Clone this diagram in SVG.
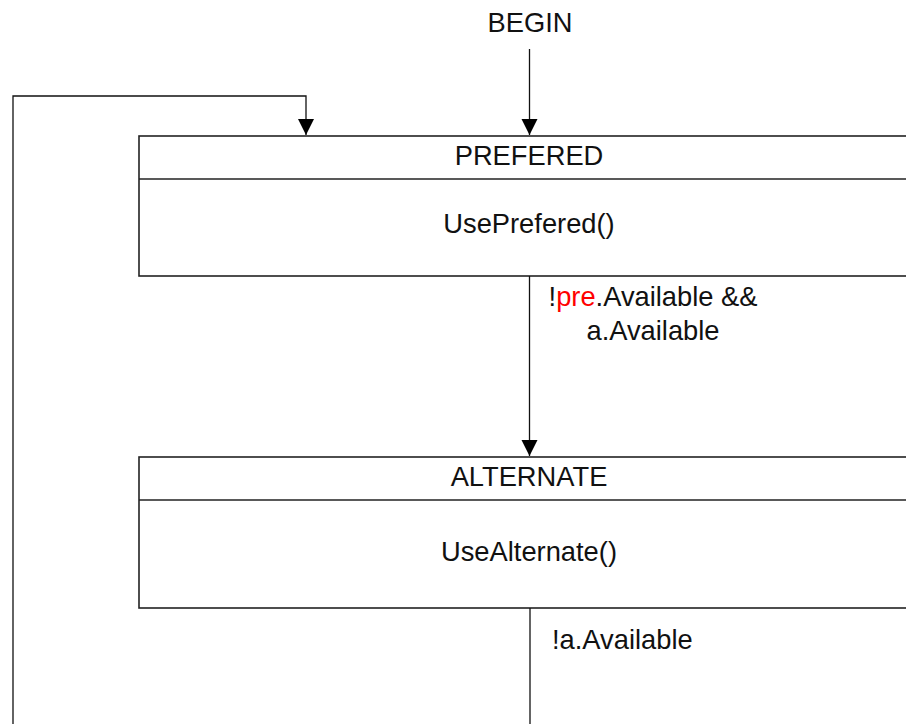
<svg xmlns="http://www.w3.org/2000/svg" width="906" height="724" viewBox="0 0 906 724">
  <style>
    .box { fill: #ffffff; stroke: #222222; stroke-width: 1.6; }
    .div { stroke: #222222; stroke-width: 1.6; }
    .edge { fill: none; stroke: #111111; stroke-width: 1.3; }
    text { font-family: "Liberation Sans", Arial, sans-serif; font-size: 27.3px; fill: #111111; }
    .mid { text-anchor: middle; }
    .red { fill: #ff0000; }
  </style>
  <defs>
    <marker id="arrow" viewBox="0 0 16 18" refX="16" refY="9" markerWidth="16" markerHeight="18" markerUnits="userSpaceOnUse" orient="auto">
      <path d="M0,1 L16,9 L0,17 Z" fill="#000000"/>
    </marker>
  </defs>
  <rect width="906" height="724" fill="#ffffff"/>

  <g id="begin">
    <text class="mid" x="530" y="32">BEGIN</text>
  </g>

  <g id="prefered">
    <rect class="box" x="139" y="136" width="790" height="140"/>
    <line class="div" x1="139" y1="179" x2="906" y2="179"/>
    <text class="mid" x="529" y="165">PREFERED</text>
    <text class="mid" x="529" y="233">UsePrefered()</text>
  </g>

  <g id="alternate">
    <rect class="box" x="139" y="457" width="790" height="151"/>
    <line class="div" x1="139" y1="500" x2="906" y2="500"/>
    <text class="mid" x="529" y="486">ALTERNATE</text>
    <text class="mid" x="529" y="561">UseAlternate()</text>
  </g>

  <g id="connectors">
    <!-- start -> PREFERED -->
    <line class="edge" x1="529.5" y1="49" x2="529.5" y2="135" marker-end="url(#arrow)"/>
    <!-- loop back from ALTERNATE to PREFERED -->
    <polyline class="edge" points="530,608 530,724"/>
    <polyline class="edge" points="13,724 13,96 306,96 306,135" marker-end="url(#arrow)"/>
    <!-- PREFERED -> ALTERNATE -->
    <line class="edge" x1="529.5" y1="276" x2="529.5" y2="456" marker-end="url(#arrow)"/>
    <text class="mid" x="653" y="306">!<tspan class="red">pre</tspan>.Available &amp;&amp;</text>
    <text class="mid" x="653" y="340">a.Available</text>
    <text x="552" y="649">!a.Available</text>
  </g>
</svg>
